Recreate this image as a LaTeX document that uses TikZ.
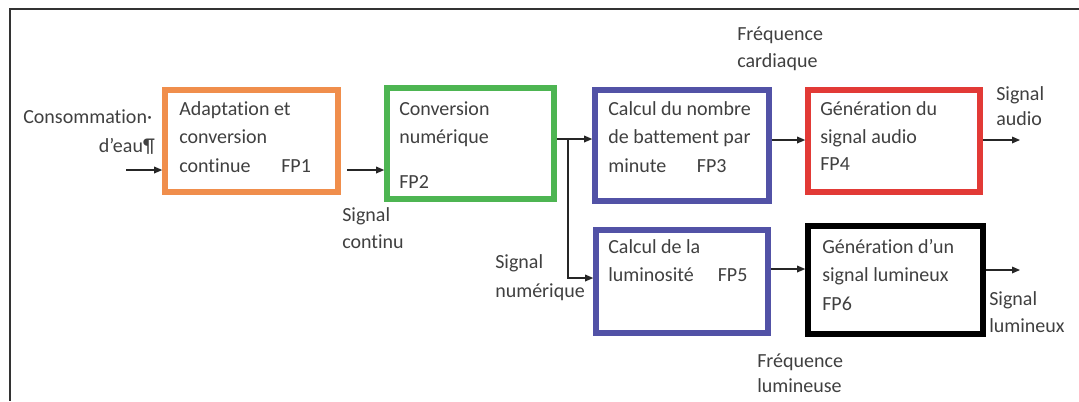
\documentclass[tikz,border=0pt]{standalone}
\usepackage{fontspec}
\setmainfont{Carlito}[Ligatures=NoCommon]
\usetikzlibrary{arrows.meta,calc}
\definecolor{txt}{HTML}{404040}
\definecolor{cOrange}{HTML}{F08E4C}
\definecolor{cGreen}{HTML}{4DB552}
\definecolor{cBlue}{HTML}{5252A6}
\definecolor{cRed}{HTML}{E23A36}
\definecolor{cFrame}{HTML}{333333}
\newcommand\mylines[1]{\begin{tabular}[t]{@{}l@{}}#1\end{tabular}}
\begin{document}
\begin{tikzpicture}[x=0.75pt,y=-0.75pt,
  fbox/.style={draw=#1,line width=4.2pt,minimum width=130pt,minimum height=80pt,inner sep=0pt},
  lbl/.style={anchor=base west,inner sep=0pt,text=txt,font=\fontsize{15}{21.4}\selectfont},
  conn/.style={draw=black!85,line width=0.9pt,-{Triangle[length=6pt,width=5pt]}},
  plain/.style={draw=black!85,line width=0.9pt}]
\useasboundingbox[fill=white] (0,0) rectangle (1079,401);
\draw[cFrame,line width=1.2pt] (1079,9) -- (10,9) -- (10,401);
% boxes
\node[fbox=cOrange,minimum width=129.75pt,minimum height=76.5pt] (FP1) at (251.5,141) {};
\node[fbox=cGreen,minimum width=125.25pt,minimum height=83.25pt] (FP2) at (470.5,143.5) {};
\node[fbox=cBlue,minimum width=130.5pt,minimum height=83.25pt] (FP3) at (682,145.5) {};
\node[fbox=cRed,minimum width=129pt,minimum height=76.5pt] (FP4) at (894,141) {};
\node[fbox=cBlue,minimum width=129pt,minimum height=77.25pt] (FP5) at (682,281.5) {};
\node[fbox=black,minimum width=131.25pt,minimum height=81pt] (FP6) at (895.5,280) {};
% box texts
\node[lbl] (t1) at (179,115) {\mylines{Adaptation et\\conversion\\continue\hspace{23pt}FP1}};
\node[lbl] (t2) at (399,115) {\mylines{Conversion\\numérique\\[12pt]FP2}};
\node[lbl] (t3) at (608,115) {\mylines{Calcul du nombre\\de battement par\\minute\hspace{23pt}FP3}};
\node[lbl] (t4) at (820,115) {\mylines{Génération du\\signal audio\\[-1pt]FP4}};
\node[lbl] (t5) at (608,253) {\mylines{Calcul de la\\luminosité\hspace{18pt}FP5}};
\node[lbl] (t6) at (822,253) {\mylines{Génération d’un\\signal lumineux\\FP6}};
% outside labels
\node[lbl] (lin1) at (23,123) {Consommation·};
\node[lbl,anchor=base east] (lin2) at (155,152) {d’eau¶};
\node[lbl] (lcont) at (342,221) {\mylines{Signal\\[-0.5pt]continu}};
\node[lbl] (lnum) at (495,268) {\mylines{Signal\\[0.5pt]numérique}};
\node[lbl] (lcard) at (737,40) {\mylines{Fréquence\\[-1pt]cardiaque}};
\node[lbl] (laud) at (996,100) {\mylines{Signal\\[-2.6pt]audio}};
\node[lbl] (llum) at (989,305) {\mylines{Signal\\[-1pt]lumineux}};
\node[lbl] (lfl) at (757,367) {\mylines{Fréquence\\[-2pt]lumineuse}};
% connector coordinates
\coordinate (inA) at (126,170);
\coordinate (c12) at (347,170);
\coordinate (c23) at (FP2.east |- 0,139);
\coordinate (br) at (568,139);
\coordinate (br2) at (568,278);
\coordinate (c34) at (FP3.east |- 0,140);
\coordinate (o4a) at (FP4.east |- 0,140);
\coordinate (o4b) at (1020,140);
\coordinate (c56) at (FP5.east |- 0,269);
\coordinate (o6a) at (FP6.east |- 0,270);
\coordinate (o6b) at (1020,270);
% connectors
\draw[conn] (inA) -- (inA -| FP1.west);
\draw[conn] (c12) -- (c12 -| FP2.west);
\draw[conn] (c23) -- (c23 -| FP3.west);
\draw[conn] (br) -- (br2) -- (br2 -| FP5.west);
\draw[conn] (c34) -- (c34 -| FP4.west);
\draw[conn] (o4a) -- (o4b);
\draw[conn] (c56) -- (c56 -| FP6.west);
\draw[conn] (o6a) -- (o6b);
\end{tikzpicture}
\end{document}
